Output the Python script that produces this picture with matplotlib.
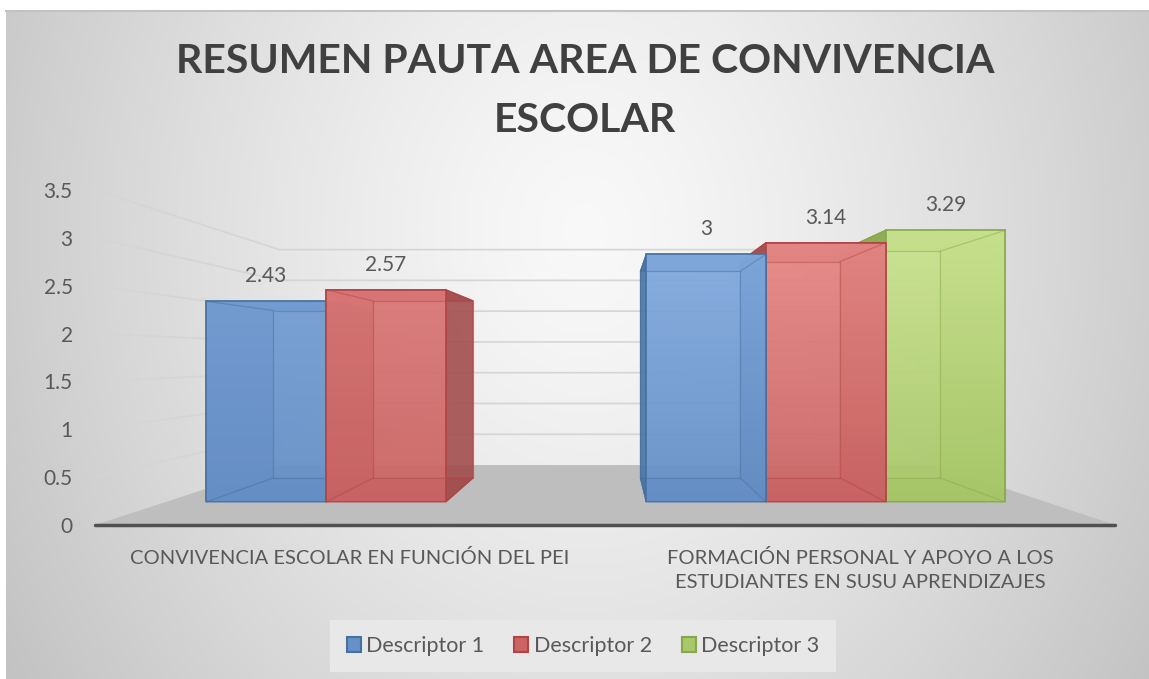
import numpy as np
import matplotlib.pyplot as plt
from matplotlib.patches import Polygon, Patch
from matplotlib.colors import to_rgb

plt.rcParams['font.family'] = ['Lato', 'DejaVu Sans']

categories = ["CONVIVENCIA ESCOLAR EN FUNCIÓN DEL PEI",
              "FORMACIÓN PERSONAL Y APOYO A LOS\nESTUDIANTES EN SUSU APRENDIZAJES"]
series_names = ["Descriptor 1", "Descriptor 2", "Descriptor 3"]
descriptor_1 = [2.43, 3.0]
descriptor_2 = [2.57, 3.14]
descriptor_3 = [np.nan, 3.29]
y_ticks = [0, 0.5, 1, 1.5, 2, 2.5, 3, 3.5]

W, H = 1149, 679
fig = plt.figure(figsize=(W / 100, H / 100), dpi=100)
fig.patch.set_facecolor('white')


def fr(x0, y0, x1, y1):
    # pixel box -> figure rect
    return [x0 / W, 1 - y1 / H, (x1 - x0) / W, (y1 - y0) / H]


# background with radial shading
bg = fig.add_axes([0, 0, 1, 1], zorder=-1)
yy, xx = np.mgrid[10:679, 6:1149]
d = np.sqrt(((xx - 585) / 575.0) ** 2 + ((yy - 230) / 700.0) ** 2)
shade = np.clip(0.975 - 0.17 * d ** 1.3, 0, 1)
bg.imshow(np.dstack([shade] * 3), extent=(6, 1149, 679, 10), aspect='auto', interpolation='bilinear')
bg.plot([6, 1149], [10.5, 10.5], color='#c2c2c2', lw=1.5)
bg.set_xlim(0, W)
bg.set_ylim(H, 0)
bg.axis('off')

# front plane of the chart (ticks, labels, floor, walls)
L, R, B, T = 95, 1115, 525, 190
VPX, VPY = 611, 357
S_WALL, S_BAR, S_DEPTH = 0.643, 0.863, 0.834

ax = fig.add_axes(fr(L, T, R, B), zorder=0)
ax.set_xlim(-0.5, 1.5)
ax.set_ylim(0, 3.5)
ax.patch.set_visible(False)
for s in ['left', 'right', 'top']:
    ax.spines[s].set_visible(False)
ax.spines['bottom'].set_color('#505050')
ax.spines['bottom'].set_linewidth(2.5)
ax.spines['bottom'].set_capstyle('round')

vx = -0.5 + (VPX - L) / (R - L) * 2.0
vy = (B - VPY) / (B - T) * 3.5


def proj(px, py, s):
    return vx + (px - vx) * s, vy + (py - vy) * s


floor = [(-0.5, 0), (1.5, 0), proj(1.5, 0, S_WALL), proj(-0.5, 0, S_WALL)]
ax.add_patch(Polygon(floor, closed=True, facecolor='#bebebe', edgecolor='none', clip_on=False, zorder=0.5))

for v in y_ticks[1:]:
    p1 = proj(-0.5, v, S_WALL)
    p2 = proj(1.5, v, S_WALL)
    ax.plot([-0.5, p1[0], p2[0]], [v, p1[1], p2[1]], color='#d5d5d5', lw=1.2, clip_on=False, zorder=0.4)

ax.set_yticks(y_ticks)
ax.set_yticklabels([f"{v:g}" for v in y_ticks])
ax.set_xticks(range(len(categories)))
ax.set_xticklabels(categories, linespacing=1.55)
ax.tick_params(axis='y', length=0, pad=16, labelsize=15, labelcolor='#595959')
ax.tick_params(axis='x', length=0, pad=17, labelsize=14.5, labelcolor='#595959')

# plane of the bar front faces
bl, br = VPX + (L - VPX) * S_BAR, VPX + (R - VPX) * S_BAR
bt, bb = VPY + (T - VPY) * S_BAR, VPY + (B - VPY) * S_BAR
bx = fig.add_axes(fr(bl, bt, br, bb), zorder=0.2)
bx.set_xlim(-0.5, 1.5)
bx.set_ylim(0, 3.5)
bx.axis('off')

width = 0.272
x = np.arange(len(categories))
series = [descriptor_1, descriptor_2, descriptor_3]
dark = ['#6690c8', '#cc6464', '#a9c869']
light = ['#93bbee', '#f49794', '#d3eb9a']
edges = ['#46719f', '#b04545', '#86a84a']
sides = ['#4a73a6', '#a34e4e', '#8dac50']


def back(p):
    return vx + (p[0] - vx) * S_DEPTH, vy + (p[1] - vy) * S_DEPTH


for i, vals in enumerate(series):
    vals = np.asarray(vals, dtype=float)
    ok = ~np.isnan(vals)
    pos = x[ok] + (i - 1) * width
    bars = bx.bar(pos, vals[ok], width, facecolor='none', edgecolor=edges[i], lw=1.2)
    c0, c1 = np.array(to_rgb(dark[i])), np.array(to_rgb(light[i]))
    for rect, v in zip(bars, vals[ok]):
        x0, x1 = rect.get_x(), rect.get_x() + rect.get_width()
        # bars far from the vanishing point are painted first
        z = 10 - abs((x0 + x1) / 2 - vx) * 3
        rect.set_zorder(z + 0.5)
        f = [(x0, 0), (x1, 0), (x1, v), (x0, v)]
        b = [back(p) for p in f]
        bx.add_patch(Polygon(b, closed=True, facecolor=sides[i], alpha=0.35, edgecolor='none',
                             clip_on=False, zorder=z))
        faces = [[f[0], f[1], b[1], b[0]], [f[0], f[3], b[3], b[0]],
                 [f[1], f[2], b[2], b[1]], [f[3], f[2], b[2], b[3]]]
        for face in faces:
            bx.add_patch(Polygon(face, closed=True, facecolor=sides[i], edgecolor=edges[i], lw=0.8,
                                 alpha=0.85, clip_on=False, zorder=z + 0.1))
        t = np.linspace(0, 1, 64)[:, None] * (v / 3.5) ** 3
        grad = c0[None, :] + (c1 - c0)[None, :] * t
        im = bx.imshow(grad[:, None, :], extent=[x0, x1, 0, v], origin='lower', aspect='auto',
                       alpha=0.9, zorder=z + 0.2, interpolation='bilinear')
        im.set_clip_path(rect)
        # back edges seen through the transparent front
        bx.add_patch(Polygon(b, closed=True, facecolor='none', edgecolor=edges[i], lw=0.9, alpha=0.45,
                             clip_on=False, zorder=z + 0.3))
        for k in range(4):
            bx.plot([f[k][0], b[k][0]], [f[k][1], b[k][1]], color=edges[i], lw=0.9, alpha=0.45,
                    zorder=z + 0.3)
        bx.annotate(f"{v:g}", (rect.get_x() + rect.get_width() / 2, v), xytext=(0, 18),
                    textcoords='offset points', ha='center', va='center', fontsize=15, color='#595959',
                    zorder=20)

bx.set_xlim(-0.5, 1.5)
bx.set_ylim(0, 3.5)

fig.text(585 / W, 1 - 91 / H, "RESUMEN PAUTA AREA DE CONVIVENCIA\nESCOLAR", ha='center', va='center',
         fontsize=29.5, fontweight='bold', color='#404040', linespacing=1.74)

handles = [Patch(facecolor=dark[i], edgecolor=edges[i], lw=1.5) for i in range(3)]
leg = fig.legend(handles, series_names, loc='center', bbox_to_anchor=(583 / W, 1 - 646 / H), ncol=3,
                 frameon=True, fancybox=False, facecolor='#e8e8e8', edgecolor='none', framealpha=1,
                 fontsize=15.5, labelcolor='#595959', handlelength=0.65, handleheight=0.65,
                 handletextpad=0.25, columnspacing=1.4, borderpad=0.75)

fig.savefig('out.png', dpi=100)
